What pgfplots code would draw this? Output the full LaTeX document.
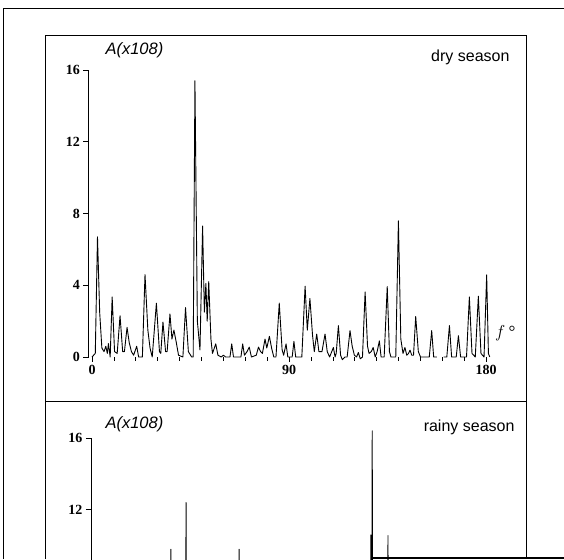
\documentclass[border=0pt]{standalone}
\usepackage{pgfplots}
\pgfplotsset{compat=1.18}
\usepackage{fontspec}
\setmainfont{Liberation Serif}
\newfontfamily\hel{Liberation Sans}
\begin{document}
\begin{tikzpicture}[x=1pt,y=1pt]
\useasboundingbox (0,0) rectangle (564,559);
\clip (0,0) rectangle (564,559);
% frames
\draw[line width=0.9pt] (3,0) -- (3,551) -- (564,551);
\draw[line width=0.9pt] (45,0) -- (45,524) -- (526,524) -- (526,0);
\draw[line width=0.9pt] (45,158) -- (526,158);
\draw[line width=2pt] (373,1) -- (564,1);
% labels
\node[font=\hel\itshape\fontsize{16.5}{16.5}\selectfont, anchor=west] at (102,509) {A(x108)};
\node[font=\hel\fontsize{16}{16}\selectfont, anchor=east] at (513,502) {dry season};
\node[font=\itshape\fontsize{17}{17}\selectfont] at (505,226) {$f$\,\textdegree};
\node[font=\hel\itshape\fontsize{16.5}{16.5}\selectfont, anchor=west] at (102,135) {A(x108)};
\node[font=\hel\fontsize{16}{16}\selectfont, anchor=east] at (518,132) {rainy season};
\pgfplotsset{panel/.style={
  scale only axis, width=402.1pt, height=287pt,
  xmin=-1.6, xmax=182, ymin=0, ymax=16,
  axis x line*=bottom, axis y line*=left,
  x axis line style={draw=none},
  y axis line style={-, line width=0.9pt},
  ytick={0,4,8,12,16},
  tick align=outside, major tick length=5pt, minor tick length=4pt,
  tick style={black, line width=0.8pt},
  ticklabel style={font=\bfseries\fontsize{14}{14}\selectfont},
  /pgf/number format/assume math mode=true,
  clip=false, unbounded coords=jump}}
\begin{axis}[panel, at={(88.5pt,202pt)}, anchor=south west,
  xtick={0,90,180}, minor xtick={10,20,...,170}]
\addplot[black, line width=0.9pt, line join=round, mark=none] coordinates {
(0,0) (1.5,0.2) (2.5,6.7) (3.5,2.5) (4.5,0.5) (5.5,0.3) (6.3,0.6) (7,0.2) (7.5,0.75) (8.3,0)
(9.2,3.35) (10.3,0.3) (11.5,0.2) (12.8,2.3) (14,0.3) (14.8,0.3) (16,1.65) (17,0.8) (18,0.3) (19,0.1)
(20.4,0.6) (21.3,0) (23,0) (24.2,4.6) (25.5,1.5) (26.5,0.5) (27.5,0) (29.4,3.0) (30.8,0.3) (31.4,0.2)
(32.4,1.95) (33.6,0.3) (34.3,0.3) (35.6,2.4) (36.5,1) (37.4,1.5) (38.5,0.8) (39.5,0.1) (41.5,0)
(42.7,2.75) (44,0.3) (45.5,0) (46.2,0) (47,15.4) (48.1,2) (49.3,0.4) (50.5,7.3) (51.3,2.5) (52,4.1)
(52.6,2) (53.3,4.2) (54.3,1) (55,0.2) (56.5,0.73) (57.5,0.1) (59,0) (60,0.1) (61,0) (63,0)
(63.8,0.73) (64.6,0) (68,0) (68.8,0.73) (69.6,0.1) (70.8,0.3) (71.8,0.55) (72.8,0) (75,0.1) (76,0.55)
(77,0.3) (77.8,0.2) (79,1.0) (79.8,0.5) (81,1.15) (82,0.5) (83,0) (84,0) (85.5,3.0) (86.8,0.4)
(87.5,0.1) (88.6,0.73) (89.4,0) (91.4,0) (92.2,0.87) (93,0) (95.8,0) (97.3,3.95) (98.3,1.5) (99.5,3.26)
(100.7,1.2) (101.5,0.3) (102.6,1.28) (103.6,0.3) (105,0.3) (106.4,1.28) (107.4,0.3) (108.5,0) (110.2,0.53) (111,0)
(111.5,0.2) (112.5,1.75) (113.5,0.1) (114.3,-0.15) (115.5,0) (116.5,0) (117.8,1.47) (118.8,0.6) (119.8,0.1) (120.8,0)
(121.6,0.25) (122.5,-0.1) (123.5,0) (124.7,3.63) (125.8,0.6) (126.5,0.2) (127.5,0.3) (128.4,0.53) (129.3,0) (130.2,0.3)
(131.2,0.9) (132,0) (133.4,0) (134.8,3.93) (135.8,0.3) (136.5,0) (138.7,0) (139.9,7.59) (141,1) (142,0.2)
(142.9,0.53) (143.7,0.1) (144.5,0.2) (145.2,0.38) (146,0.1) (146.8,0.1) (147.8,2.26) (149,0.3) (150,0) (154,0)
(155.1,1.47) (156,0) (157.5,0) (158.5,nan) (160.5,0) (162,0) (163.2,1.75) (164.2,0) (166.3,0) (167.3,1.19)
(168.3,0) (171,0) (172.3,3.35) (173.5,0.2) (175,0) (176.4,3.39) (177.6,0.2) (179,0) (180.2,4.58) (181,0.2) (181.6,0)
};
\end{axis}
\begin{axis}[panel, at={(91pt,-166pt)}, anchor=south west, xtick=\empty]
\addplot[black, line width=0.9pt, line join=round, mark=none] coordinates {
(0,0) (34.6,0) (34.9,9.8) (35.2,0) (41.5,0) (41.8,12.4) (42.1,0) (65.7,0) (66,9.8) (66.3,0)
(125.9,0) (126.2,10.6) (126.5,0) (126.6,0) (126.8,16.4) (127.1,0) (133.7,0) (134,10.56) (134.3,0) (180,0)
};
\end{axis}
\end{tikzpicture}
\end{document}
